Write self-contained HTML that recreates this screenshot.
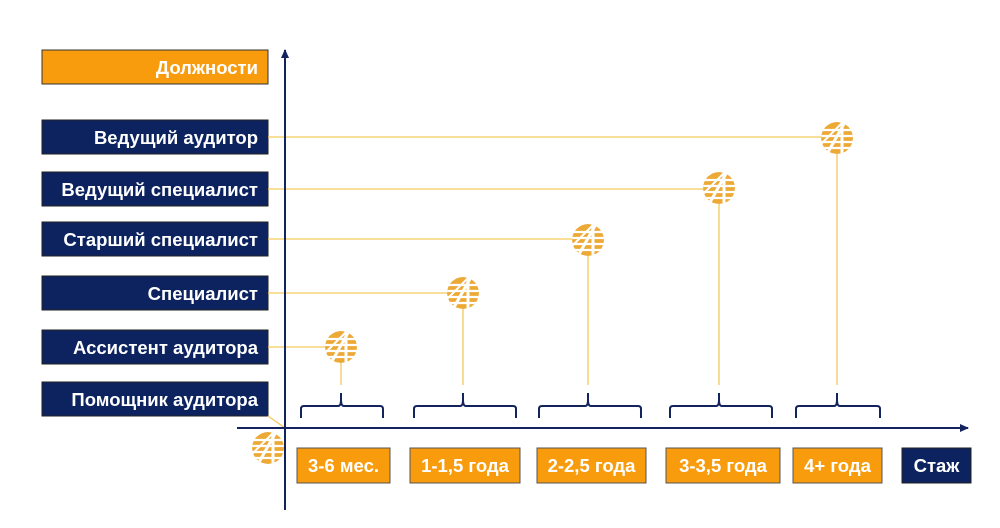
<!DOCTYPE html>
<html><head><meta charset="utf-8"><style>
html,body{margin:0;padding:0;background:#fff;}
svg{display:block}
text{font-family:"Liberation Sans",sans-serif;font-weight:bold;fill:#fff;}
</style></head><body>
<svg width="1000" height="528" viewBox="0 0 1000 528" xmlns="http://www.w3.org/2000/svg">
<defs>
<clipPath id="cc"><circle cx="0" cy="0" r="16"/></clipPath>
<g id="ic">
<g clip-path="url(#cc)">
<circle cx="0" cy="0" r="16" fill="#eda935"/>
<g stroke="#fff" stroke-width="2.2">
<line x1="-17" y1="-8" x2="17" y2="-8"/>
<line x1="-17" y1="-2" x2="17" y2="-2"/>
<line x1="-17" y1="4" x2="17" y2="4"/>
<line x1="-17" y1="10" x2="17" y2="10"/>
</g>
<line x1="-10" y1="16" x2="8" y2="-16" stroke="#fff" stroke-width="3"/>
<line x1="5" y1="-16" x2="5" y2="16" stroke="#fff" stroke-width="3"/>
<line x1="-16" y1="6" x2="5" y2="-15" stroke="#fff" stroke-width="2"/>
</g>
</g>
<marker id="ar" markerWidth="10" markerHeight="10" refX="8" refY="4" orient="auto" markerUnits="userSpaceOnUse"><path d="M0,0 L9,4 L0,8 Z" fill="#13235e"/></marker>
</defs>

<rect x="42" y="50" width="226" height="34" fill="#f89c0e" stroke="#333" stroke-width="1"/>
<text x="258" y="74" font-size="18.5" text-anchor="end">Должности</text>
<g fill="#0c2360" stroke="#222" stroke-width="1">
<rect x="42" y="120" width="226" height="34"/>
<rect x="42" y="172" width="226" height="34"/>
<rect x="42" y="222" width="226" height="34"/>
<rect x="42" y="276" width="226" height="34"/>
<rect x="42" y="330" width="226" height="34"/>
<rect x="42" y="382" width="226" height="34"/>
</g>
<g font-size="18.5" text-anchor="end">
<text x="258" y="144">Ведущий аудитор</text>
<text x="258" y="196">Ведущий специалист</text>
<text x="258" y="246">Старший специалист</text>
<text x="258" y="300">Специалист</text>
<text x="258" y="354">Ассистент аудитора</text>
<text x="258" y="406">Помощник аудитора</text>
</g>

<g stroke="#f3c95c" stroke-width="1.3" fill="none">
<line x1="268" y1="137" x2="821" y2="137"/>
<line x1="268" y1="189" x2="703" y2="189"/>
<line x1="268" y1="239" x2="572" y2="239"/>
<line x1="268" y1="293" x2="447" y2="293"/>
<line x1="268" y1="347" x2="325" y2="347"/>
<line x1="268" y1="416" x2="285" y2="428"/>
<line x1="341" y1="363" x2="341" y2="385"/>
<line x1="463" y1="309" x2="463" y2="385"/>
<line x1="588" y1="256" x2="588" y2="385"/>
<line x1="719" y1="204" x2="719" y2="385"/>
<line x1="837" y1="154" x2="837" y2="385"/>
</g>

<line x1="285" y1="510" x2="285" y2="50" stroke="#13235e" stroke-width="2" marker-end="url(#ar)"/>
<line x1="237" y1="428" x2="968" y2="428" stroke="#13235e" stroke-width="2" marker-end="url(#ar)"/>

<g stroke="#13235e" stroke-width="2" fill="none">
<path d="M301,418 L301,409 Q301,406 304,406 L338,406 Q341,406 341,400 L341,393 M341,400 Q341,406 344,406 L380,406 Q383,406 383,409 L383,418"/>
<path d="M414,418 L414,409 Q414,406 417,406 L460,406 Q463,406 463,400 L463,393 M463,400 Q463,406 466,406 L513,406 Q516,406 516,409 L516,418"/>
<path d="M539,418 L539,409 Q539,406 542,406 L585,406 Q588,406 588,400 L588,393 M588,400 Q588,406 591,406 L638,406 Q641,406 641,409 L641,418"/>
<path d="M670,418 L670,409 Q670,406 673,406 L716,406 Q719,406 719,400 L719,393 M719,400 Q719,406 722,406 L769,406 Q772,406 772,409 L772,418"/>
<path d="M796,418 L796,409 Q796,406 799,406 L834,406 Q837,406 837,400 L837,393 M837,400 Q837,406 840,406 L877,406 Q880,406 880,409 L880,418"/>
</g>

<use href="#ic" x="341" y="347"/>
<use href="#ic" x="463" y="293"/>
<use href="#ic" x="588" y="240"/>
<use href="#ic" x="719" y="188"/>
<use href="#ic" x="837" y="138"/>
<use href="#ic" x="268" y="448"/>

<g fill="#f89c0e" stroke="#555" stroke-width="1">
<rect x="297" y="448" width="93" height="35"/>
<rect x="410" y="448" width="110" height="35"/>
<rect x="537" y="448" width="109" height="35"/>
<rect x="666" y="448" width="114" height="35"/>
<rect x="793" y="448" width="89" height="35"/>
</g>
<rect x="902" y="448" width="69" height="35" fill="#0c2360" stroke="#222"/>
<g font-size="18.5" text-anchor="middle">
<text x="343.5" y="472">3-6 мес.</text>
<text x="465" y="472">1-1,5 года</text>
<text x="591.5" y="472">2-2,5 года</text>
<text x="723" y="472">3-3,5 года</text>
<text x="837.5" y="472">4+ года</text>
<text x="936.5" y="472">Стаж</text>
</g>
</svg>
</body></html>
